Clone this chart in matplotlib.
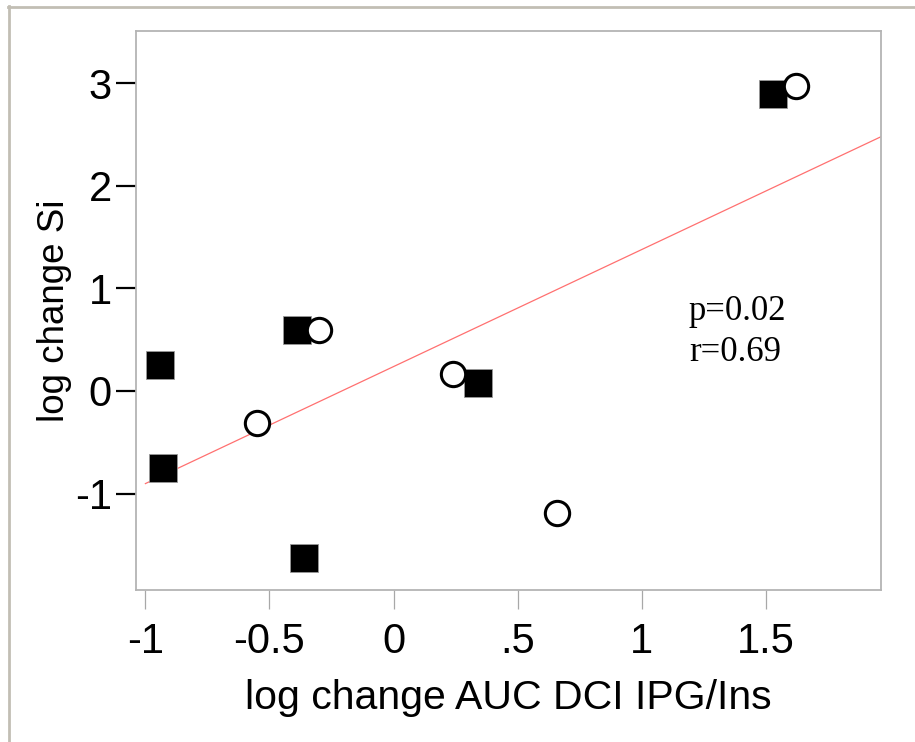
import numpy as np
import matplotlib
matplotlib.use("Agg")
import matplotlib.pyplot as plt
from matplotlib.lines import Line2D

# filled squares
sq_x = [1.53, -0.39, -0.94, -0.93, -0.36, 0.34]
sq_y = [2.90, 0.59, 0.25, -0.75, -1.63, 0.08]
# open circles
ci_x = [1.62, -0.30, -0.55, 0.24, 0.66]
ci_y = [2.97, 0.59, -0.31, 0.17, -1.19]

xticks = [-1, -0.5, 0, 0.5, 1, 1.5]
xticklabels = ["-1", "-0.5", "0", ".5", "1", "1.5"]
yticks = [-1, 0, 1, 2, 3]
yticklabels = ["-1", "0", "1", "2", "3"]

plt.rcParams["font.family"] = ["Liberation Sans", "DejaVu Sans"]

fig = plt.figure(figsize=(9.15, 7.42), dpi=100)
ax = fig.add_axes([0.1486, 0.2049, 0.8142, 0.7533])

# regression line over all points
allx = np.array(sq_x + ci_x)
ally = np.array(sq_y + ci_y)
slope, icpt = np.polyfit(allx, ally, 1)
lx = np.array([-1.0, 1.964])
ax.plot(lx, icpt + slope * lx, color="#ff7070", lw=0.9, zorder=2)

ax.plot(sq_x, sq_y, ls="none", marker="s", ms=19.5, mfc="black",
        mec="#999999", mew=0.6, zorder=3)
ax.plot(ci_x, ci_y, ls="none", marker="o", ms=17.5, mfc="white",
        mec="black", mew=2.2, zorder=4)

ax.set_xlim(-1.038, 1.964)
ax.set_ylim(-1.94, 3.51)
ax.set_xticks(xticks)
ax.set_xticklabels(xticklabels)
ax.set_yticks(yticks)
ax.set_yticklabels(yticklabels)

for s in ax.spines.values():
    s.set_color("#b4b4b4")
    s.set_linewidth(1.3)

ax.tick_params(axis="x", direction="out", length=14, width=0.9,
               color="#a8a8a8", labelsize=30, pad=9)
ax.tick_params(axis="y", direction="out", length=14.5, width=1.6,
               color="black", labelsize=30, pad=3)

ax.set_xlabel("log change AUC DCI IPG/Ins", fontsize=29.5, labelpad=12)
ax.set_ylabel("log change Si", fontsize=26.5, labelpad=2)

serif = ["Liberation Serif", "DejaVu Serif"]
ax.text(1.19, 0.78, "p=0.02", family=serif, fontsize=25, va="center", ha="left")
ax.text(1.19, 0.38, "r=0.69", family=serif, fontsize=25, va="center", ha="left")

# outer frame lines of the exported figure
fc = "#c2beb4"
fig.add_artist(Line2D([8 / 915, 1], [1 - 6.5 / 742, 1 - 6.5 / 742], color=fc, lw=2))
fig.add_artist(Line2D([9 / 915, 9 / 915], [0, 1 - 6 / 742], color=fc, lw=2))

fig.savefig("out.png", dpi=100)
